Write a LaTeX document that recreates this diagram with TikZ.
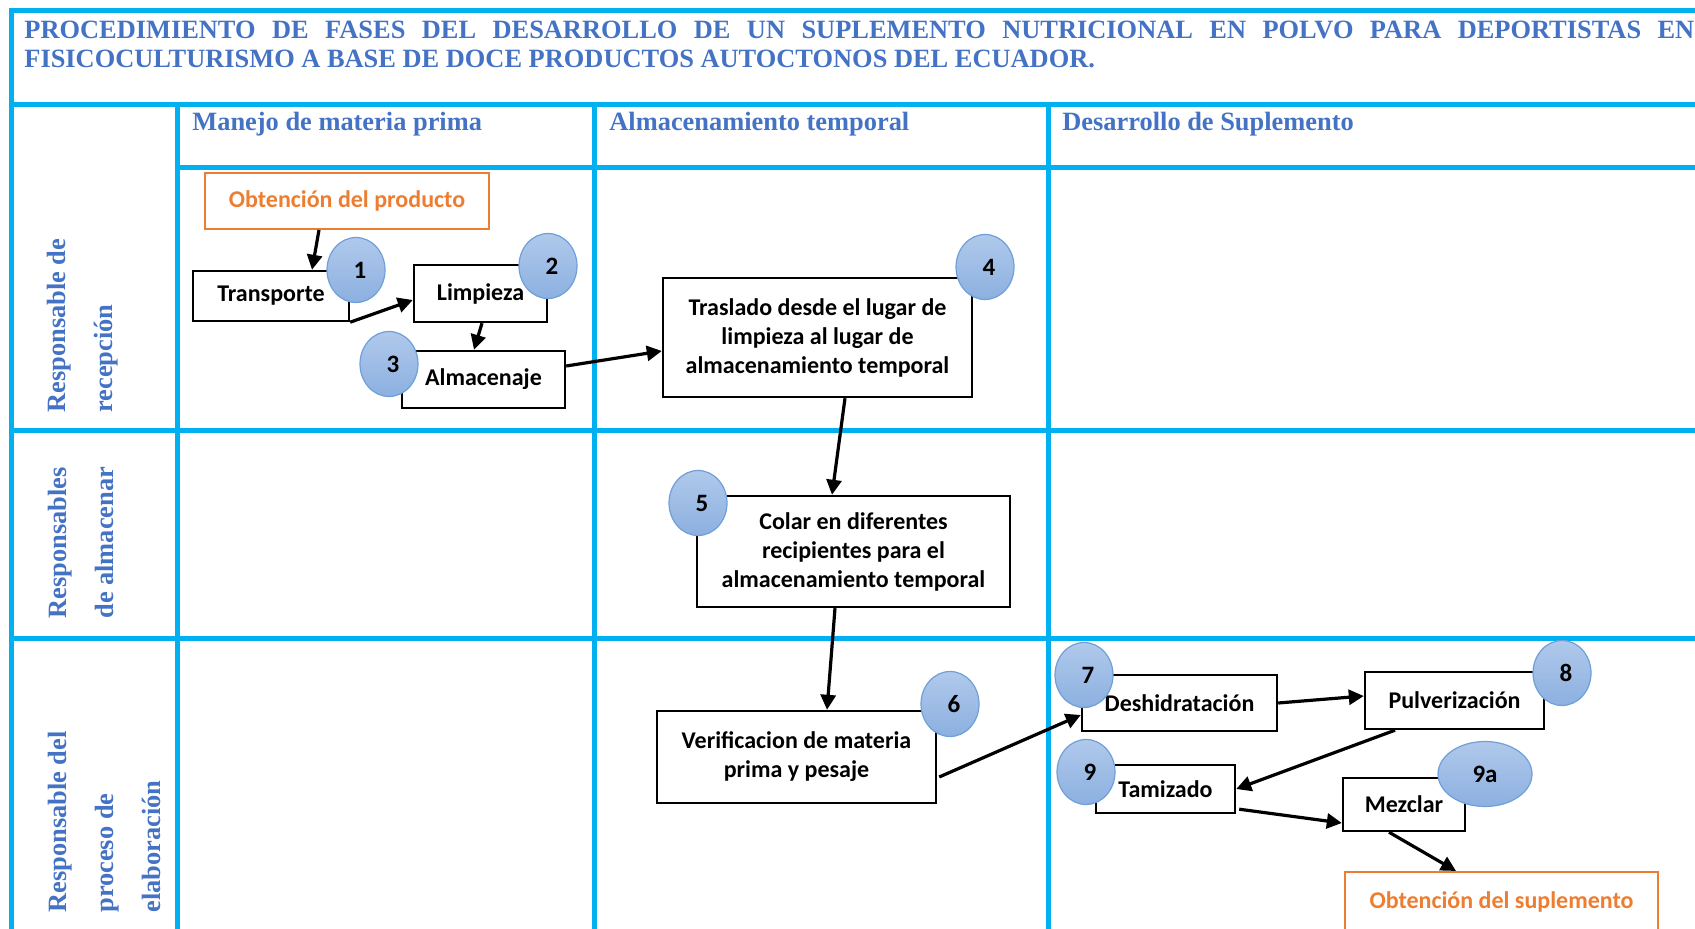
\documentclass[tikz,border=0pt]{standalone}
\usepackage{fontspec}
\setmainfont{Liberation Serif}
\newfontfamily\carlito{Carlito}
\usepackage{tikz}
\usetikzlibrary{arrows.meta,positioning,shapes.geometric}
\definecolor{PFCyan}{HTML}{00B0F0}
\definecolor{PFBlue}{HTML}{4472C4}
\definecolor{PFOrange}{HTML}{ED7D31}
\definecolor{PFCircTop}{HTML}{B0C9EB}
\definecolor{PFCircBot}{HTML}{8CB0E0}
\definecolor{PFCircEdge}{HTML}{6F9FD8}

\tikzset{
  rejilla/.style={draw=PFCyan, line width=2.5pt},
  encabezado/.style={font=\fontsize{13.2}{16}\selectfont\bfseries, text=PFBlue,
    inner sep=0pt, anchor=base west},
  responsable/.style={font=\fontsize{13.2}{23.5}\selectfont\bfseries, text=PFBlue,
    inner sep=0pt, rotate=90, anchor=north west, align=left},
  paso/.style={draw, line width=1.2pt, align=center, inner sep=0pt,
    font=\carlito\bfseries\fontsize{12}{14.5}\selectfont},
  extremo/.style={draw=PFOrange, line width=1pt, text=PFOrange, inner sep=0pt,
    font=\carlito\bfseries\fontsize{12}{14.5}\selectfont},
  numero/.style={ellipse, draw=PFCircEdge, line width=0.6pt, top color=PFCircTop,
    bottom color=PFCircBot, minimum width=29pt, minimum height=32.5pt, inner sep=0pt,
    font=\carlito\bfseries\fontsize{12.5}{14.5}\selectfont},
  flecha/.style={line width=1.6pt, -{Triangle[length=7.5pt,width=7.5pt]}}
}

\begin{document}
\begin{tikzpicture}[x=0.5pt,y=-0.5pt]
\useasboundingbox (0,0) rectangle (1695,929);

% rejilla de la tabla
\draw[rejilla] (11,940) -- (11,11) -- (1705,11);
\draw[rejilla] (11,105) -- (1705,105);
\draw[rejilla] (177,168) -- (1705,168);
\draw[rejilla] (11,431) -- (1705,431);
\draw[rejilla] (11,638) -- (1705,638);
\foreach \x in {177,594,1048}
  \draw[rejilla] (\x,105) -- (\x,940);

% titulo
\node[encabezado] (titulo1) at (24,39) {\makebox[835pt][s]{PROCEDIMIENTO DE FASES DEL DESARROLLO DE UN SUPLEMENTO NUTRICIONAL EN POLVO PARA DEPORTISTAS EN}};
\node[encabezado] (titulo2) at (24,68) {FISICOCULTURISMO A BASE DE DOCE PRODUCTOS AUTOCTONOS DEL ECUADOR.};

% fases
\node[encabezado] (fase1) at (192,131) {Manejo de materia prima};
\node[encabezado] (fase2) at (609,131) {Almacenamiento temporal};
\node[encabezado] (fase3) at (1062,131) {Desarrollo de Suplemento};

% responsables
\node[responsable] (resp1) at (47,413) {Responsable de\\recepción};
\node[responsable] (resp2) at (48,619) {Responsables\\de almacenar};
\node[responsable] (resp3) at (48,913) {Responsable del\\proceso de\\elaboración};

% pasos
\node[extremo, minimum width=142pt, minimum height=28pt] (obtprod) at (347,201) {Obtención del producto};
\node[paso, minimum width=78pt, minimum height=25pt] (transporte) at (271,296) {Transporte};
\node[paso, minimum width=66.5pt, minimum height=28.5pt] (limpieza) at (480.5,293.5) {Limpieza};
\node[paso, minimum width=81.5pt, minimum height=28.5pt] (almacenaje) at (483.5,379.5) {Almacenaje};
\node[paso, minimum width=154.5pt, minimum height=59.5pt] (traslado) at (817.5,337.5) {Traslado desde el lugar de\\limpieza al lugar de\\almacenamiento temporal};
\node[paso, minimum width=156.5pt, minimum height=55.5pt] (colar) at (853.5,551.5) {Colar en diferentes\\recipientes para el\\almacenamiento temporal};
\node[paso, minimum width=139.5pt, minimum height=46pt] (verificacion) at (796.5,757) {Verificacion de materia\\prima y pesaje};
\node[paso, minimum width=97.5pt, minimum height=28pt] (deshid) at (1179.5,703) {Deshidratación};
\node[paso, minimum width=89.5pt, minimum height=28.5pt] (pulver) at (1454.5,700.5) {Pulverización};
\node[paso, minimum width=69.5pt, minimum height=24pt] (tamizado) at (1165.5,789) {Tamizado};
\node[paso, minimum width=61pt, minimum height=26.5pt] (mezclar) at (1404,804.5) {Mezclar};
\node[extremo, minimum width=156.5pt, minimum height=30pt] (obtsup) at (1501.5,902) {Obtención del suplemento};

% flechas
\draw[flecha] ([xshift=-14pt]obtprod.south) -- ([xshift=20.5pt]transporte.north);
\draw[flecha] (transporte.south east) -- ([yshift=-3.25pt]limpieza.west);
\draw[flecha] ([xshift=0.75pt]limpieza.south) -- ([xshift=-4.75pt]almacenaje.north);
\draw[flecha] ([yshift=6.75pt]almacenaje.east) -- ([yshift=-6.75pt]traslado.west);
\draw[flecha] ([xshift=13.75pt]traslado.south) -- ([xshift=-10.75pt]colar.north);
\draw[flecha] ([xshift=-9.25pt]colar.south) -- ([xshift=15.25pt]verificacion.north);
\draw[flecha] ([xshift=1pt,yshift=-10pt]verificacion.east) -- ([yshift=-6pt]deshid.west);
\draw[flecha] (deshid.east) -- ([yshift=2.25pt]pulver.west);
\draw[flecha] ([xshift=-29.75pt]pulver.south) -- (tamizado.east);
\draw[flecha] ([xshift=1.5pt,yshift=2.5pt]tamizado.south east) -- ([yshift=-9.25pt]mezclar.west);
\draw[flecha] ([xshift=-7.5pt]mezclar.south) -- ([xshift=-22.75pt]obtsup.north);

% numeros
\node[numero] (n1) at (356,270) {\hspace*{4pt}1};
\node[numero] (n2) at (548,266) {\hspace*{4pt}2};
\node[numero] (n3) at (389,364) {\hspace*{4pt}3};
\node[numero] (n4) at (985,267) {\hspace*{4pt}4};
\node[numero] (n5) at (698,503) {\hspace*{4pt}5};
\node[numero] (n6) at (950,704) {\hspace*{4pt}6};
\node[numero] (n7) at (1084,675) {\hspace*{4pt}7};
\node[numero] (n8) at (1562,673) {\hspace*{4pt}8};
\node[numero] (n9) at (1086,772) {\hspace*{4pt}9};
\node[numero, minimum width=47pt] (n9a) at (1485,774) {9a};
\end{tikzpicture}
\end{document}
